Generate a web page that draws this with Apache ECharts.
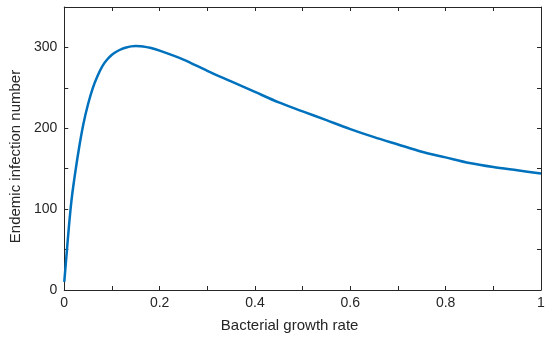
<!DOCTYPE html>
<html>
<head>
<meta charset="utf-8">
<script src="https://cdn.jsdelivr.net/npm/echarts@6/dist/echarts.min.js"></script>
<style>html,body{margin:0;padding:0;background:#fff}#c{width:550px;height:339px}</style>
</head>
<body>
<div id="c"></div>
<script>
const growthRate = [0, 0.005, 0.01, 0.015, 0.02, 0.03, 0.04, 0.05, 0.06, 0.07, 0.08, 0.09, 0.10, 0.11, 0.12, 0.13, 0.14, 0.15, 0.16, 0.17, 0.18, 0.20, 0.25, 0.30, 0.35, 0.40, 0.45, 0.50, 0.55, 0.60, 0.65, 0.70, 0.75, 0.80, 0.85, 0.90, 0.95, 1.0];
const infectionNumber = [10, 45, 80, 110, 133, 172, 205, 230, 250, 265, 277, 285, 291, 295, 298, 300, 301.3, 301.7, 301.4, 300.7, 299.5, 296, 285, 271, 258, 245, 232, 221, 210, 199, 189, 180, 171, 164, 157, 152, 148, 144];
const xTickLabels = ['0', '0.2', '0.4', '0.6', '0.8', '1'];
const yTickLabels = ['0', '100', '200', '300'];

const axisColor = '#262626';
const font = 'Liberation Sans, Arial, Helvetica, sans-serif';
const chart = echarts.init(document.getElementById('c'), null, {renderer: 'canvas'});
const data = growthRate.map((x, i) => [x, infectionNumber[i]]);

function xFmt(v) {
  const r = Math.round(v * 10);
  if (r % 2 !== 0) return '';
  const s = String(r / 10);
  return xTickLabels.includes(s) ? s : '';
}
function yFmt(v) {
  const s = String(Math.round(v));
  return yTickLabels.includes(s) ? s : '';
}

const axisLine = {show: true, onZero: false, lineStyle: {color: axisColor, width: 1}};
const axisTick = {show: true, inside: true, length: 4, lineStyle: {color: axisColor, width: 1}};
chart.setOption({
  animation: false,
  backgroundColor: '#fff',
  grid: {left: 62, right: 9, top: 7, bottom: 49, containLabel: false},
  xAxis: [{
    type: 'value', min: 0, max: 1, interval: 0.1, position: 'bottom',
    axisLine: axisLine, axisTick: axisTick,
    splitLine: {show: false},
    axisLabel: {formatter: xFmt, color: axisColor, fontSize: 14, fontFamily: font, margin: 6, showMinLabel: true, showMaxLabel: true, hideOverlap: false},
    name: 'Bacterial growth rate', nameLocation: 'middle', nameGap: 28,
    nameTextStyle: {color: axisColor, fontSize: 15, fontFamily: font, padding: [0, 26, 0, 0]}
  }, {
    type: 'value', min: 0, max: 1, interval: 0.1, position: 'top',
    axisLine: axisLine, axisTick: axisTick,
    splitLine: {show: false}, axisLabel: {show: false}
  }],
  yAxis: [{
    type: 'value', min: 0, max: 350, interval: 50, position: 'left',
    axisLine: axisLine, axisTick: axisTick,
    splitLine: {show: false},
    axisLabel: {formatter: yFmt, color: axisColor, fontSize: 14, fontFamily: font, margin: 7},
    name: 'Endemic infection number', nameLocation: 'middle', nameGap: 41,
    nameTextStyle: {color: axisColor, fontSize: 15, fontFamily: font, padding: [0, 16, 0, 0]}
  }, {
    type: 'value', min: 0, max: 350, interval: 50, position: 'right',
    axisLine: axisLine, axisTick: axisTick,
    splitLine: {show: false}, axisLabel: {show: false}
  }],
  series: [{
    type: 'line', data: data, xAxisIndex: 0, yAxisIndex: 0,
    showSymbol: false, smooth: 0.3,
    lineStyle: {color: '#0072BD', width: 2.5}
  }]
});
</script>
</body>
</html>
